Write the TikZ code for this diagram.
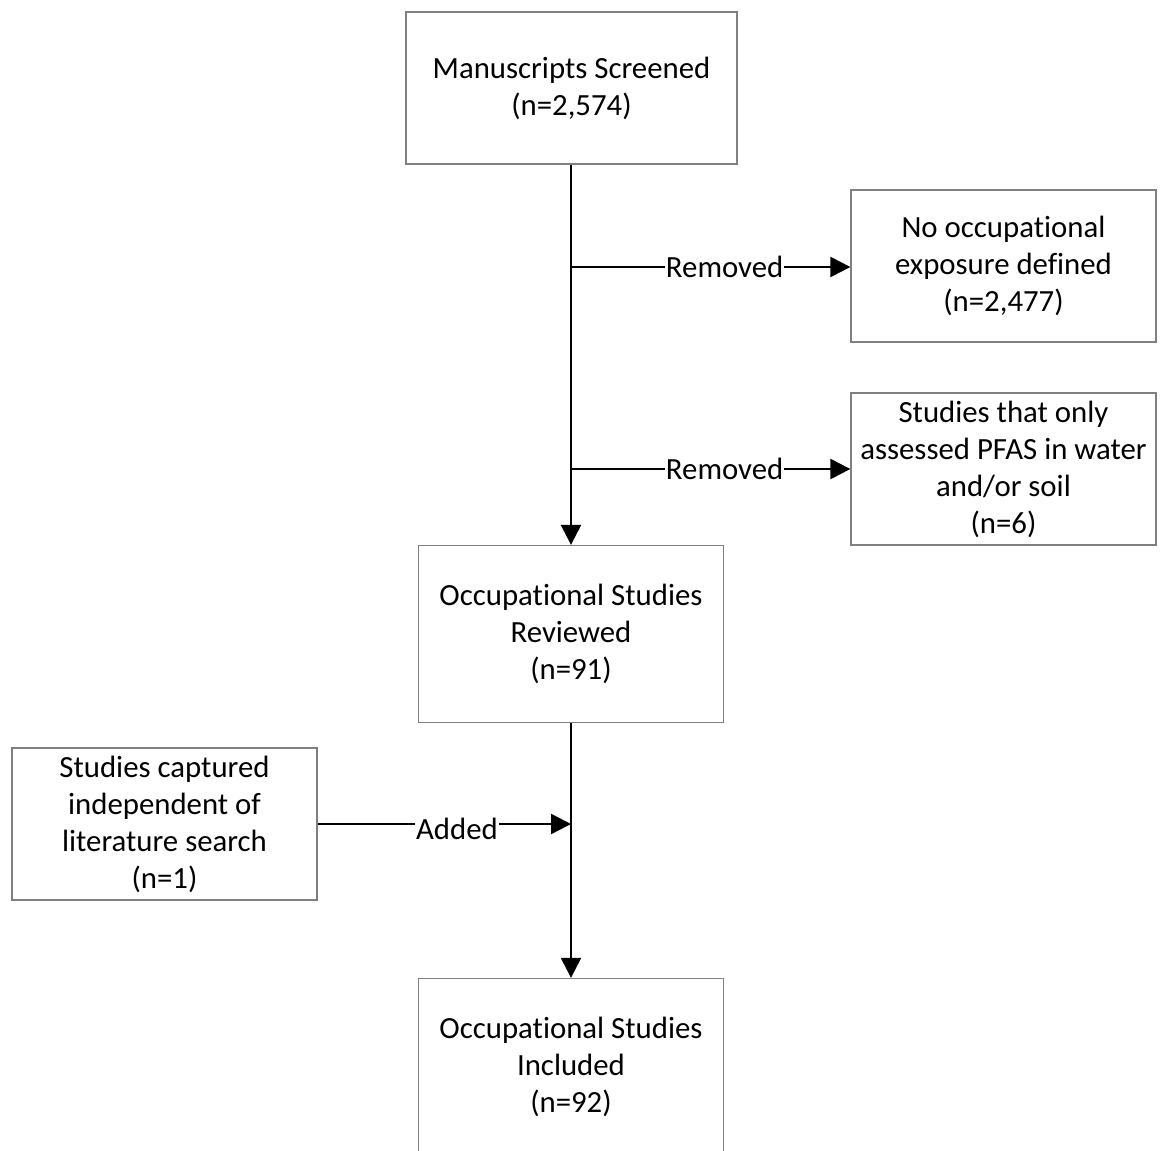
\documentclass[tikz,border=0pt]{standalone}
\usepackage{fontspec}
\setmainfont{Carlito}[Ligatures={NoCommon}]
\usetikzlibrary{arrows.meta}
\definecolor{boxgray}{RGB}{128,128,128}
\tikzset{
  flowbox/.style={draw=boxgray, line width=1.3pt, fill=white, align=center, inner sep=0pt,
    font={\fontsize{30.8}{37}\selectfont}},
  conn/.style={line width=2.3pt, black},
  arr/.style={conn, -{Triangle[length=20pt,width=20pt]}},
  lbl/.style={fill=white, inner sep=1pt, font={\fontsize{30.8}{37}\selectfont}}
}
\begin{document}
\begin{tikzpicture}[x=1pt,y=-1pt]
\useasboundingbox[fill=white] (0,0) rectangle (1160,1151);
\node[flowbox, minimum width=331pt, minimum height=152pt] (ms) at (571.5,88) {Manuscripts Screened\\(n=2,574)};
\node[flowbox, minimum width=305pt, minimum height=152pt] (noocc) at (1003.5,266) {No occupational\\exposure defined\\(n=2,477)};
\node[flowbox, minimum width=305pt, minimum height=152pt] (pfas) at (1003.5,469) {Studies that only\\assessed PFAS in water\\and/or soil\\(n=6)};
\node[flowbox, minimum width=305pt, minimum height=177pt] (rev) at (571,634) {Occupational Studies\\Reviewed\\(n=91)};
\node[flowbox, minimum width=305pt, minimum height=152pt] (cap) at (164.5,824) {Studies captured\\independent of\\literature search\\(n=1)};
\node[flowbox, minimum width=305pt, minimum height=177pt] (inc) at (571,1067) {Occupational Studies\\Included\\(n=92)};
\coordinate (b1) at (571,267);
\coordinate (b2) at (571,469);
\coordinate (j) at (571,824);
\draw[arr] (ms.south -| rev.north) -- (rev.north);
\draw[arr] (b1) -- node[lbl, pos=0.55] (r1) {Removed} (b1 -| noocc.west);
\draw[arr] (b2) -- node[lbl, pos=0.55] (r2) {Removed} (b2 -| pfas.west);
\draw[arr] (rev.south) -- (inc.north);
\draw[arr] (cap.east |- j) -- node[lbl, pos=0.55, yshift=-5pt] (ad) {Added} (j);
\end{tikzpicture}
\end{document}
